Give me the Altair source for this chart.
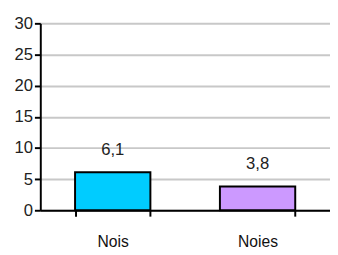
import altair as alt
import pandas as pd

categories = ["Nois", "Noies"]
values = [6.1, 3.8]
labels = ["6,1", "3,8"]
colors = ["#00CCFF", "#CC99FF"]

df = pd.DataFrame({"cat": categories, "val": values, "lab": labels, "col": colors})

x = alt.X("cat:N", sort=categories, title=None,
          scale=alt.Scale(paddingInner=0.48, paddingOuter=0.24),
          axis=alt.Axis(labelAngle=0, labelFontSize=16, labelFont="Liberation Sans",
                        labelColor="#111", labelPadding=18, domainColor="#000",
                        domainWidth=2, tickColor="#000", tickWidth=2, tickSize=6,
                        tickBand="extent", grid=False))
y = alt.Y("val:Q", title=None,
          scale=alt.Scale(domain=[0, 30], nice=False),
          axis=alt.Axis(values=[0, 5, 10, 15, 20, 25, 30], labelFontSize=17,
                        labelFont="Liberation Sans", labelColor="#222",
                        domainColor="#000", domainWidth=2, tickColor="#000",
                        tickWidth=2, tickSize=6, labelPadding=2,
                        gridColor="#C8C8C8", gridWidth=2))

bars = alt.Chart(df).mark_bar(stroke="#000", strokeWidth=2).encode(
    x=x, y=y, color=alt.Color("col:N", scale=None))
text = alt.Chart(df).mark_text(dy=-23, fontSize=17, font="Liberation Sans",
                               color="#222").encode(x=x, y=y, text="lab:N")

chart = (bars + text).properties(
    width=296, height=191,
    autosize=alt.AutoSizeParams(type="none"),
    padding={"left": 33, "top": 13, "right": 0, "bottom": 42},
).configure_view(stroke=None)

chart.save("out.html", embed_options={"renderer": "svg", "actions": False})
